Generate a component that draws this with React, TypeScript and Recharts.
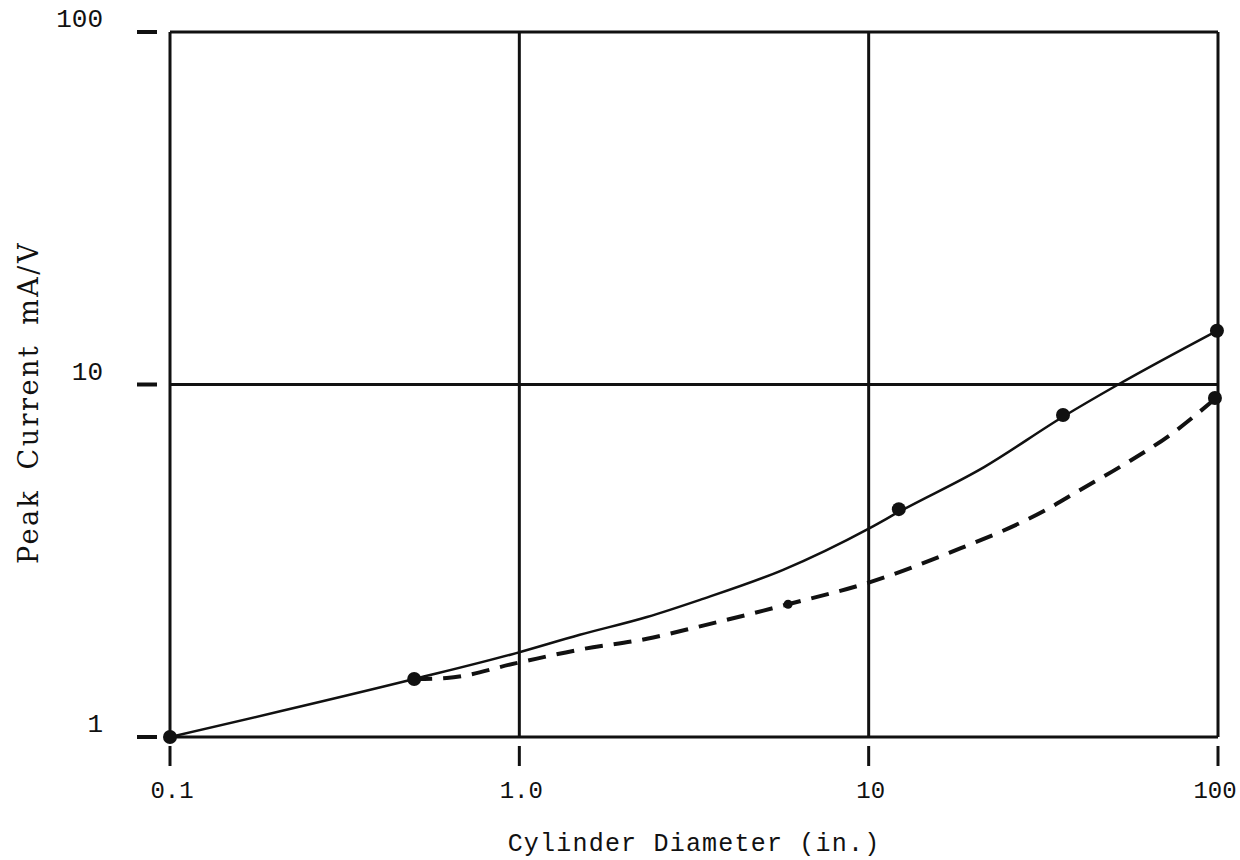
import { ComposedChart, Line, Scatter, XAxis, YAxis, CartesianGrid, Label } from 'recharts';

// log-log axes
const xTicks = [0.1, 1, 10, 100];
const xTickLabels = ['0.1', '1.0', '10', '100'];
const yTicks = [1, 10, 100];
const yTickLabels = ['1', '10', '100'];

// solid curve
const solidCurve = [
  { x: 0.1, y: 1.0 },
  { x: 0.5, y: 1.46 },
  { x: 0.98, y: 1.73 },
  { x: 1.49, y: 1.95 },
  { x: 2.32, y: 2.19 },
  { x: 3.29, y: 2.45 },
  { x: 5.69, y: 2.98 },
  { x: 10.1, y: 3.92 },
  { x: 12.2, y: 4.35 },
  { x: 21.4, y: 5.83 },
  { x: 36, y: 8.1 },
  { x: 51.8, y: 10 },
  { x: 99.3, y: 14.2 },
];

// dashed curve
const dashedCurve = [
  { x: 0.5, y: 1.46 },
  { x: 0.62, y: 1.47 },
  { x: 0.98, y: 1.62 },
  { x: 1.49, y: 1.77 },
  { x: 2.32, y: 1.9 },
  { x: 3.29, y: 2.06 },
  { x: 5.88, y: 2.38 },
  { x: 10.1, y: 2.75 },
  { x: 17, y: 3.33 },
  { x: 32.2, y: 4.41 },
  { x: 40.3, y: 5.02 },
  { x: 53.5, y: 5.91 },
  { x: 72.9, y: 7.19 },
  { x: 98, y: 9.1 },
];

const solidMarks = [
  { x: 0.1, y: 1.0 },
  { x: 0.5, y: 1.46 },
  { x: 12.2, y: 4.43 },
  { x: 36, y: 8.19 },
  { x: 99.3, y: 14.2 },
];

const dashedMarks = [
  { x: 5.88, y: 2.38 },
  { x: 98, y: 9.16 },
];

const INK = '#111';
const MONO = '"Liberation Mono", "DejaVu Sans Mono", monospace';
const SERIF = '"DejaVu Serif", "Liberation Serif", serif';

function XTick({ x, y, payload }: any) {
  const i = xTicks.indexOf(payload.value);
  // keep the last label inside the picture
  const dx = i === xTicks.length - 1 ? -3 : 2;
  return (
    <g>
      <line x1={x} x2={x} y1={y + 9} y2={y + 29} stroke={INK} strokeWidth={3} />
      <text x={x + dx} y={y + 61} textAnchor="middle" fontFamily={MONO} fontSize={24} fill={INK}>
        {xTickLabels[i]}
      </text>
    </g>
  );
}

function YTick({ x, y, payload }: any) {
  const i = yTicks.indexOf(payload.value);
  return (
    <g>
      <line x1={x - 33} x2={x - 13} y1={y} y2={y} stroke={INK} strokeWidth={4} />
      <text x={x - 67} y={y - 5} textAnchor="end" fontFamily={MONO} fontSize={26} fill={INK}>
        {yTickLabels[i]}
      </text>
    </g>
  );
}

function YTitle({ viewBox }: any) {
  const cy = viewBox ? viewBox.y + viewBox.height / 2 + 18 : 402;
  return (
    <text
      x={0}
      y={0}
      transform={`translate(38, ${cy}) rotate(-90)`}
      textAnchor="middle"
      style={{ fontFamily: SERIF }}
      fontSize={27}
      letterSpacing={2.5}
      wordSpacing={8}
      fill={INK}
    >
      Peak Current mA/V
    </text>
  );
}

function XTitle({ viewBox }: any) {
  const cx = viewBox ? viewBox.x + viewBox.width / 2 : 693;
  return (
    <text x={cx} y={851} textAnchor="middle" fontFamily={MONO} fontSize={25} letterSpacing={1.2} fill={INK}>
      Cylinder Diameter (in.)
    </text>
  );
}

const bigDot = (p: any) => <circle cx={p.cx} cy={p.cy} r={7} fill={INK} />;
const dashDot = (p: any) => <circle cx={p.cx} cy={p.cy} r={p.index === 0 ? 4.5 : 7} fill={INK} />;

export default function App() {
  return (
    <div style={{ position: 'absolute', left: 0, top: 0, width: 1240, height: 860, background: '#fff' }}>
      <ComposedChart width={1240} height={860} margin={{ top: 32, right: 22, bottom: 43, left: 0 }}>
        <CartesianGrid stroke={INK} strokeWidth={3} />
        <XAxis
          dataKey="x"
          type="number"
          scale="log"
          domain={[0.1, 100]}
          ticks={xTicks}
          axisLine={false}
          tickLine={false}
          tickSize={0}
          tickMargin={0}
          height={80}
          tick={<XTick />}
        >
          <Label content={<XTitle />} />
        </XAxis>
        <YAxis
          dataKey="y"
          type="number"
          scale="log"
          domain={[1, 100]}
          ticks={yTicks}
          axisLine={false}
          tickLine={false}
          tickSize={0}
          tickMargin={0}
          width={170}
          tick={<YTick />}
        >
          <Label content={<YTitle />} />
        </YAxis>
        <Line
          data={solidCurve}
          dataKey="y"
          type="monotone"
          stroke={INK}
          strokeWidth={2.5}
          dot={false}
          activeDot={false}
          isAnimationActive={false}
        />
        <Line
          data={dashedCurve}
          dataKey="y"
          type="monotone"
          stroke={INK}
          strokeWidth={4}
          strokeDasharray="18 11"
          dot={false}
          activeDot={false}
          isAnimationActive={false}
        />
        <Scatter data={solidMarks} dataKey="y" shape={bigDot} isAnimationActive={false} />
        <Scatter data={dashedMarks} dataKey="y" shape={dashDot} isAnimationActive={false} />
      </ComposedChart>
    </div>
  );
}
